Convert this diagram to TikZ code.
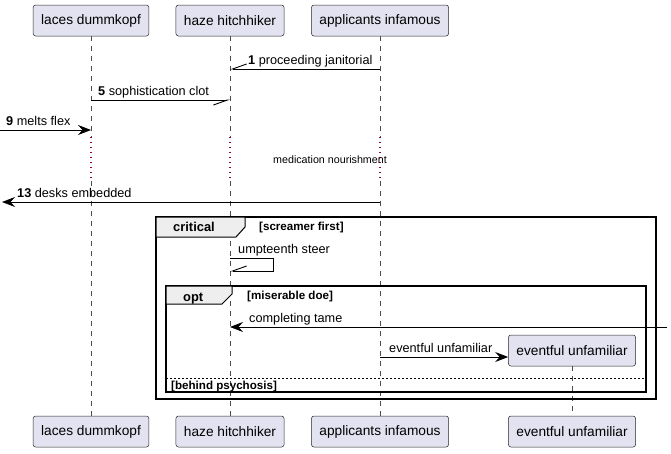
\documentclass[tikz,border=0pt]{standalone}
\usepackage{fontspec}
\setmainfont{Liberation Sans}
\usetikzlibrary{arrows.meta,positioning,calc}
\definecolor{boxfill}{HTML}{E2E2F0}
\definecolor{tabfill}{HTML}{EEEEEE}
\definecolor{delaycol}{HTML}{900038}

\begin{document}
\begin{tikzpicture}[x=1pt,y=-1pt,
    actor/.style={draw=black!85,line width=0.5pt,fill=boxfill,rounded corners=2.5pt,
      minimum height=31pt,inner xsep=8pt,font=\fontsize{13.7}{16}\selectfont},
    life/.style={draw=black!70,line width=0.5pt,dash pattern=on 5pt off 5pt},
    delayline/.style={draw=delaycol,line width=1.2pt,dash pattern=on 1.2pt off 3.8pt},
    msg/.style={line width=0.9pt},
    full/.style={msg,-{Stealth[length=13pt,width=10pt,inset=4.5pt]}},
    half/.style={msg,-{Straight Barb[right,length=14pt,width=10pt]}},
    lbl/.style={anchor=base west,inner sep=0pt,font=\fontsize{12.7}{15}\selectfont},
    guard/.style={anchor=base west,inner sep=0pt,font=\bfseries\fontsize{11.6}{14}\selectfont},
    frmlbl/.style={anchor=base west,inner sep=0pt,font=\bfseries\fontsize{12.9}{15}\selectfont},
    frm/.style={line width=1.6pt},
    tab/.style={line width=1pt,fill=tabfill}]
    \useasboundingbox (0,0) rectangle (671,453);

    % participants
    \node[actor] (lacesT) at (91,20.5) {laces dummkopf};
    \node[actor] (hazeT) at (230,20.5) {haze hitchhiker};
    \node[actor] (applT) at (380,20.5) {applicants infamous};
    \node[actor] (lacesB) at (91,431.5) {laces dummkopf};
    \node[actor] (hazeB) at (230,431.5) {haze hitchhiker};
    \node[actor] (applB) at (380,431.5) {applicants infamous};
    \node[actor] (eventT) at (572,350.5) {eventful unfamiliar};
    \node[actor] (eventB) at (572,431.5) {eventful unfamiliar};

    % lifelines, dotted during the delay
    \coordinate (dlyTop) at (0,137);
    \coordinate (dlyBot) at (0,181);
    \foreach \p in {laces,haze,appl} {
      \draw[life] (\p T.south) -- (\p T.south |- dlyTop);
      \draw[delayline] (\p T.south |- dlyTop) -- (\p T.south |- dlyBot);
      \draw[life] (\p T.south |- dlyBot) -- (\p B.north);
    }
    \draw[life] (eventT.south) -- (eventB.north);

    % frames
    \draw[frm] (156,217) rectangle (656,399);
    \draw[tab] (156,217) -- (245,217) -- (245,227) -- (236,237) -- (156,237) -- cycle;
    \node[frmlbl] (critLbl) at (173,231.5) {critical};
    \node[guard] (critGuard) at (259,230.5) {[screamer first]};
    \draw[frm] (166,286) rectangle (646,392);
    \draw[tab] (166,286) -- (232,286) -- (232,294) -- (222,304) -- (166,304) -- cycle;
    \node[frmlbl] (optLbl) at (183,301) {opt};
    \node[guard] (optGuard) at (247,299.5) {[miserable doe]};
    \draw[line width=0.8pt,dash pattern=on 2pt off 2pt] (166,378) -- (646,378);
    \node[guard] (elseGuard) at (171,389.5) {[behind psychosis]};

    % messages
    \coordinate (m1) at (0,69);
    \coordinate (m5) at (0,100);
    \coordinate (m9) at (0,130);
    \coordinate (m13) at (2,202);
    \coordinate (mSelf) at (0,258);
    \coordinate (mTame) at (667,327);
    \coordinate (mEvent) at (0,357);

    \draw[half] (applT |- m1) -- (hazeT |- m1);
    \node[lbl] (l1) at (248,64.5) {\textbf{1} proceeding janitorial};
    \draw[half] (lacesT |- m5) -- (hazeT |- m5);
    \node[lbl] (l5) at (98,95.5) {\textbf{5} sophistication clot};
    \draw[full] (m9) -- (lacesT |- m9);
    \node[lbl] (l9) at (6,125.5) {\textbf{9} melts flex};
    \node[inner sep=0pt,font=\fontsize{10.7}{13}\selectfont] (delayTxt) at (330,160) {medication nourishment};
    \draw[full] (applT |- m13) -- (m13);
    \node[lbl] (l13) at (17,197) {\textbf{13} desks embedded};

    \draw[half] (hazeT |- mSelf) -- ++(43,0) -- ++(0,13) -- ($(hazeT |- mSelf)+(0,13)$);
    \node[lbl] (lSelf) at (238,253.5) {umpteenth steer};
    \draw[full] (mTame) -- (hazeT |- mTame);
    \node[lbl] (lTame) at (249,322.5) {completing tame};
    \draw[full] (applT |- mEvent) -- (eventT.west |- mEvent);
    \node[lbl] (lEvent) at (389,352.5) {eventful unfamiliar};
\end{tikzpicture}
\end{document}
